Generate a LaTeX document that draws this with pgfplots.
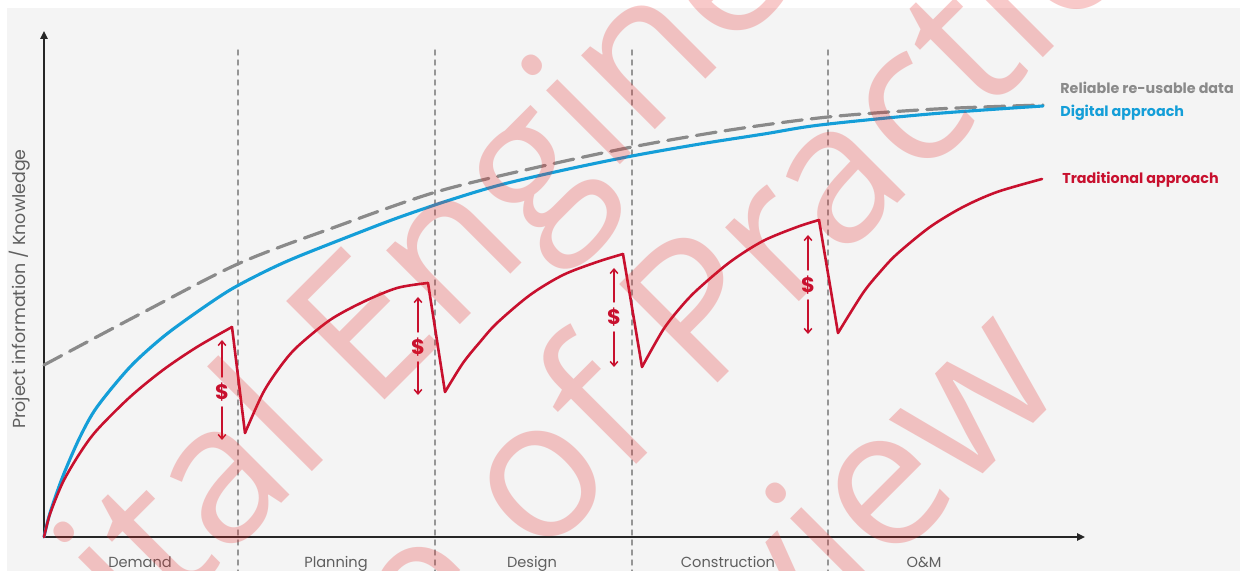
\documentclass[border=0pt]{standalone}
\usepackage{fontspec}
\setmainfont{Poppins}
\newfontfamily\wmfont{Open Sans}
\usepackage{pgfplots}
\pgfplotsset{compat=1.18}
\usetikzlibrary{arrows.meta}
\definecolor{bgcol}{RGB}{244,244,244}
\definecolor{tradred}{RGB}{200,16,46}
\definecolor{digblue}{RGB}{20,158,216}
\definecolor{relgrey}{RGB}{138,138,138}
\definecolor{labgrey}{RGB}{95,95,95}
\definecolor{sepgrey}{RGB}{150,150,150}
\definecolor{wmred}{RGB}{230,40,40}
\begin{document}
\begin{tikzpicture}
\useasboundingbox (-22pt,-17pt) rectangle (598pt,268.5pt);
\clip (-22pt,-17pt) rectangle (598pt,268.5pt);
\fill[white] (-22pt,-17pt) rectangle (598pt,268.5pt);
\fill[bgcol] (-18.5pt,-17pt) rectangle (598pt,264.5pt);
\begin{axis}[
  anchor=south west, at={(0pt,0pt)},
  x=0.5pt, y=0.5pt,
  xmin=0, xmax=1041, ymin=0, ymax=506,
  enlargelimits=false, clip=false,
  axis lines=left,
  axis line style={line width=1.1pt, draw=black!85, -{Triangle[length=4pt,width=3.6pt]}},
  xtick={96,292,488,684,880},
  xticklabels={Demand,Planning,Design,Construction,O\&M},
  ytick=\empty,
  major tick length=0pt,
  xticklabel style={anchor=base, yshift=-15.5pt, font=\fontsize{7.3}{9}\selectfont, text=labgrey},
  ylabel={Project information / Knowledge},
  ylabel style={at={(axis description cs:-0.0231,0.49)}, anchor=center, font=\fontsize{8.7}{10}\selectfont, text=labgrey},
]
% phase separators
\addplot[sepgrey, line width=0.7pt, dash pattern=on 2.5pt off 2.5pt] coordinates {(194,487) (194,-40)};
\addplot[sepgrey, line width=0.7pt, dash pattern=on 2.5pt off 2.5pt] coordinates {(391,487) (391,-40)};
\addplot[sepgrey, line width=0.7pt, dash pattern=on 2.5pt off 2.5pt] coordinates {(588,487) (588,-40)};
\addplot[sepgrey, line width=0.7pt, dash pattern=on 2.5pt off 2.5pt] coordinates {(784,487) (784,-40)};
% reliable re-usable data
\addplot[relgrey, line width=1.6pt, dash pattern=on 10pt off 4.5pt, smooth] coordinates {
 (0,172) (98,224) (196,274) (294,311) (392,345) (490,369) (588,390) (686,407) (784,420) (892,428) (999,432)};
% digital approach
\addplot[digblue, line width=1.55pt, smooth] coordinates {
 (0,0) (6,24) (19,61) (36,100) (53,130) (86,170) (119,200) (153,225) (186,247) (220,265) (253,280)
 (319,306) (356,320) (406,337) (456,352) (520,367) (588,381) (656,393) (720,403) (776,412) (886,423) (999,431)};
% traditional approach
\pgfplotsset{every axis plot/.append style={line join=round, line cap=round}}
\addplot[tradred, line width=1.3pt, smooth] coordinates {
 (0,0) (6,23) (19,55) (36,84) (53,107) (86,140) (119,167) (153,190) (188,210)};
\addplot[tradred, line width=1.3pt] coordinates {(188,210) (201,104)};
\addplot[tradred, line width=1.3pt, smooth] coordinates {
 (201,104) (219,144) (236,170) (253,190) (286,217) (319,235) (353,249) (384,254)};
\addplot[tradred, line width=1.3pt] coordinates {(384,254) (401,145)};
\addplot[tradred, line width=1.3pt, smooth] coordinates {
 (401,145) (419,174) (436,195) (453,214) (486,242) (519,262) (553,275) (579,283)};
\addplot[tradred, line width=1.3pt] coordinates {(579,283) (598,170)};
\addplot[tradred, line width=1.3pt, smooth] coordinates {
 (598,170) (619,207) (636,229) (653,247) (686,275) (719,296) (753,310) (775,317)};
\addplot[tradred, line width=1.3pt] coordinates {(775,317) (794,204)};
\addplot[tradred, line width=1.3pt, smooth] coordinates {
 (794,204) (819,244) (836,265) (853,283) (886,310) (919,330) (953,345) (998,358)};
% cost arrows
\addplot[tradred, line width=0.75pt, -{Straight Barb[length=2.2pt,width=3.8pt]}] coordinates {(178,160) (178,197)};
\addplot[tradred, line width=0.75pt, -{Straight Barb[length=2.2pt,width=3.8pt]}] coordinates {(178,130) (178,97)};
\addplot[tradred, line width=0.75pt, -{Straight Barb[length=2.2pt,width=3.8pt]}] coordinates {(374,205) (374,240)};
\addplot[tradred, line width=0.75pt, -{Straight Barb[length=2.2pt,width=3.8pt]}] coordinates {(374,175) (374,142)};
\addplot[tradred, line width=0.75pt, -{Straight Barb[length=2.2pt,width=3.8pt]}] coordinates {(570,235) (570,269)};
\addplot[tradred, line width=0.75pt, -{Straight Barb[length=2.2pt,width=3.8pt]}] coordinates {(570,205) (570,170)};
\addplot[tradred, line width=0.75pt, -{Straight Barb[length=2.2pt,width=3.8pt]}] coordinates {(764,267) (764,302)};
\addplot[tradred, line width=0.75pt, -{Straight Barb[length=2.2pt,width=3.8pt]}] coordinates {(764,237) (764,203)};
\node[text=tradred, font=\bfseries\fontsize{10.5}{11}\selectfont, inner sep=0pt] at (axis cs:178,145) {\$};
\node[text=tradred, font=\bfseries\fontsize{10.5}{11}\selectfont, inner sep=0pt] at (axis cs:374,190) {\$};
\node[text=tradred, font=\bfseries\fontsize{10.5}{11}\selectfont, inner sep=0pt] at (axis cs:570,220) {\$};
\node[text=tradred, font=\bfseries\fontsize{10.5}{11}\selectfont, inner sep=0pt] at (axis cs:764,252) {\$};
% direct labels
\node[anchor=base west, inner sep=0pt, text=relgrey, font=\bfseries\fontsize{7.15}{9}\selectfont] at (axis cs:1016,443.7) {Reliable re-usable data};
\node[anchor=base west, inner sep=0pt, text=digblue, font=\bfseries\fontsize{7.15}{9}\selectfont] at (axis cs:1016,420.3) {Digital approach};
\node[anchor=base west, inner sep=0pt, text=tradred, font=\bfseries\fontsize{7.15}{9}\selectfont] at (axis cs:1018,353) {Traditional approach};
\end{axis}
% watermark
\begin{scope}[opacity=0.25]
\node[rotate=45, text=wmred, font=\wmfont\fontsize{97.5}{110}\selectfont, inner sep=0pt] at (226pt,160pt) {Digital Engineering};
\node[rotate=45, text=wmred, font=\wmfont\fontsize{97.5}{110}\selectfont, inner sep=0pt] at (297pt,89pt) {Code of Practice};
\node[rotate=45, text=wmred, font=\wmfont\fontsize{97.5}{110}\selectfont, inner sep=0pt] at (376pt,-12pt) {Review};
\end{scope}
\end{tikzpicture}
\end{document}
